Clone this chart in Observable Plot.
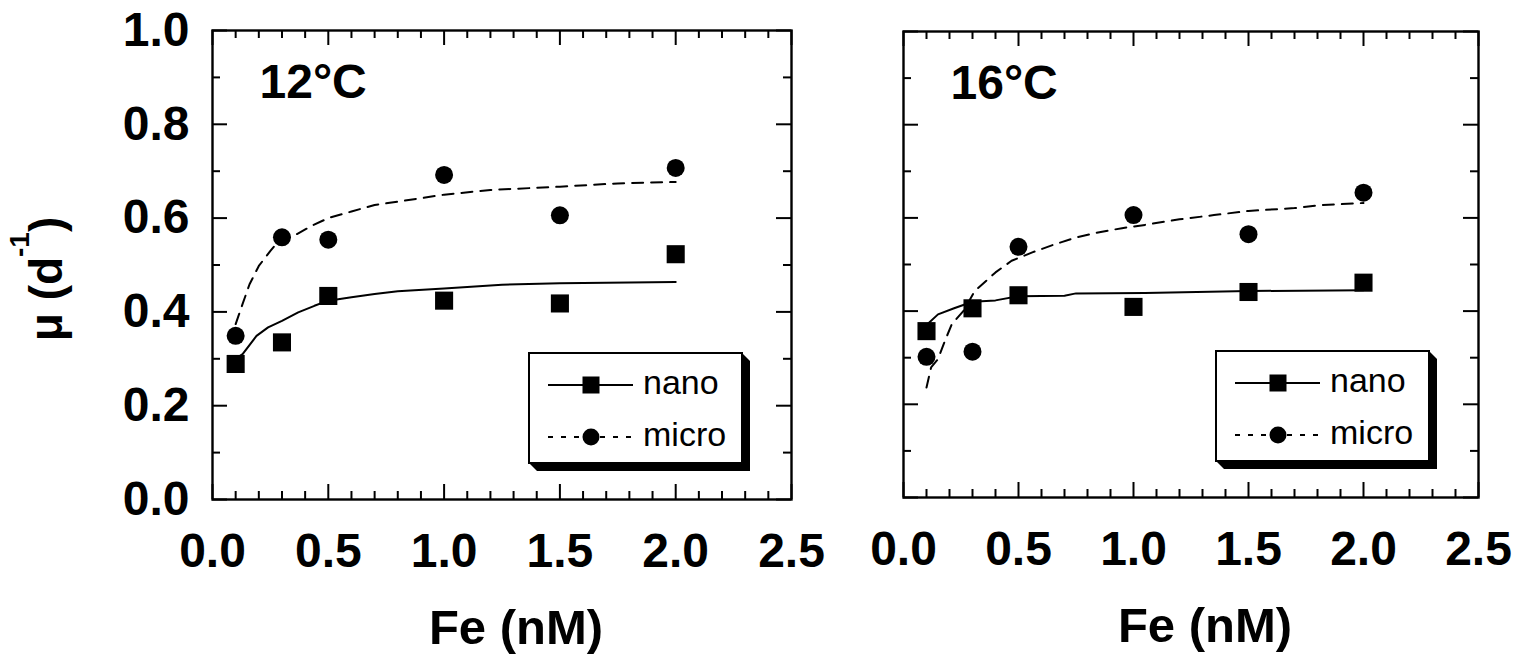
<!DOCTYPE html>
<html><head><meta charset="utf-8">
<script src="https://cdn.jsdelivr.net/npm/d3@7"></script>
<script src="https://cdn.jsdelivr.net/npm/@observablehq/plot@0.6"></script>
<style>
html,body{margin:0;padding:0;background:#fff;}
#wrap{position:relative;width:1526px;height:660px;overflow:hidden;background:#fff;}
#wrap svg{position:absolute;top:0;}
</style></head><body><div id="wrap"></div>
<script>
// ---- data ----
const fe = [0.1, 0.3, 0.5, 1.0, 1.5, 2.0];
const nano12 = [0.289, 0.335, 0.434, 0.424, 0.418, 0.523];
const micro12 = [0.349, 0.559, 0.554, 0.692, 0.606, 0.707];
const nano16 = [0.357, 0.406, 0.434, 0.409, 0.441, 0.461];
const micro16 = [0.302, 0.313, 0.538, 0.606, 0.565, 0.654];

const fitNano12Fe = [0.1, 0.13, 0.19, 0.24, 0.3, 0.37, 0.44, 0.5, 0.6, 0.7, 0.8, 1.0, 1.25, 1.5, 2.0];
const fitNano12Mu = [0.300, 0.310, 0.349, 0.367, 0.381, 0.399, 0.413, 0.424, 0.431, 0.438, 0.444, 0.450, 0.458, 0.461, 0.464];
const fitMicro12Fe = [0.1, 0.13, 0.16, 0.2, 0.25, 0.28, 0.35, 0.43, 0.5, 0.6, 0.7, 0.8, 1.0, 1.2, 1.5, 1.75, 2.0];
const fitMicro12Mu = [0.374, 0.417, 0.459, 0.498, 0.530, 0.548, 0.562, 0.584, 0.600, 0.614, 0.628, 0.635, 0.650, 0.660, 0.667, 0.674, 0.677];
const fitNano16Fe = [0.1, 0.15, 0.22, 0.3, 0.4, 0.5, 0.7, 0.75, 1.05, 1.5, 2.0];
const fitNano16Mu = [0.370, 0.393, 0.406, 0.420, 0.423, 0.432, 0.433, 0.438, 0.439, 0.443, 0.445];
const fitMicro16Fe = [0.1, 0.12, 0.15, 0.18, 0.21, 0.26, 0.31, 0.4, 0.47, 0.56, 0.65, 0.75, 0.84, 0.95, 1.05, 1.2, 1.35, 1.5, 1.7, 1.8, 2.0];
const fitMicro16Mu = [0.236, 0.279, 0.297, 0.336, 0.372, 0.400, 0.443, 0.483, 0.508, 0.526, 0.542, 0.558, 0.568, 0.578, 0.585, 0.597, 0.606, 0.615, 0.621, 0.627, 0.632];

const xMajor = [0, 0.5, 1.0, 1.5, 2.0, 2.5];
const xTickLabels = ["0.0", "0.5", "1.0", "1.5", "2.0", "2.5"];
const xMinor = [0.1, 0.2, 0.3, 0.4, 0.6, 0.7, 0.8, 0.9, 1.1, 1.2, 1.3, 1.4, 1.6, 1.7, 1.8, 1.9, 2.1, 2.2, 2.3, 2.4];
const yMajor = [0, 0.2, 0.4, 0.6, 0.8, 1.0];
const yTickLabels = ["0.0", "0.2", "0.4", "0.6", "0.8", "1.0"];
const yMinor = [0.1, 0.3, 0.5, 0.7, 0.9];
const seriesNames = ["nano", "micro"];
const panelLabels = ["12°C", "16°C"];
const xTitle = "Fe (nM)";

// ---- drawing ----
const H = 660;
const FONT = "'Liberation Sans', Arial, Helvetica, sans-serif";
const zip = (xs, ys) => xs.map((x, i) => ({x, v: ys[i]}));

function panel(cfg) {
  const innerH = H - cfg.mT - cfg.mB;
  const innerW = cfg.width - cfg.mL - cfg.mR;
  const tk = {stroke: "black", strokeWidth: 2};
  const marks = [
    Plot.tickX(xMajor, {x: d => d, insetTop: innerH - 15, ...tk}),
    Plot.tickX(xMajor, {x: d => d, insetBottom: innerH - 15, ...tk}),
    Plot.tickX(xMinor, {x: d => d, insetTop: innerH - 8, ...tk}),
    Plot.tickX(xMinor, {x: d => d, insetBottom: innerH - 8, ...tk}),
    Plot.tickY(yMajor, {y: d => d, insetRight: innerW - 15, ...tk}),
    Plot.tickY(yMajor, {y: d => d, insetLeft: innerW - 15, ...tk}),
    Plot.tickY(yMinor, {y: d => d, insetRight: innerW - 8, ...tk}),
    Plot.tickY(yMinor, {y: d => d, insetLeft: innerW - 8, ...tk}),
    Plot.frame({stroke: "black", strokeWidth: 2.4}),
    Plot.line(zip(cfg.fitNFe, cfg.fitN), {x: "x", y: "v", stroke: "black", strokeWidth: 2}),
    Plot.line(zip(cfg.fitMFe, cfg.fitM), {x: "x", y: "v", stroke: "black", strokeWidth: 2, strokeDasharray: "11,8"}),
    Plot.dot(zip(fe, cfg.nano), {x: "x", y: "v", symbol: "square", r: 10.2, fill: "black", stroke: null}),
    Plot.dot(zip(fe, cfg.micro), {x: "x", y: "v", symbol: "circle", r: 9, fill: "black", stroke: null}),
    Plot.text(xTickLabels, {x: (d, i) => xMajor[i], text: d => d, frameAnchor: "bottom", dy: 52, lineAnchor: "middle", fontSize: 48, fontWeight: "bold"}),
    Plot.text([cfg.label], {text: d => d, frameAnchor: "top-left", dx: 47, dy: 67, lineAnchor: "bottom", textAnchor: "start", fontSize: 48, fontWeight: "bold"}),
    Plot.text([xTitle], {text: d => d, frameAnchor: "bottom", dx: 14, dy: 144, lineAnchor: "bottom", fontSize: 49, fontWeight: "bold"})
  ];
  if (cfg.yLabels) {
    marks.push(Plot.text(yTickLabels, {y: (d, i) => yMajor[i], text: d => d, frameAnchor: "left", dx: -23, textAnchor: "end", lineAnchor: "middle", fontSize: 48, fontWeight: "bold"}));
  }
  const svg = Plot.plot({
    width: cfg.width, height: H,
    marginLeft: cfg.mL, marginRight: cfg.mR, marginTop: cfg.mT, marginBottom: cfg.mB,
    x: {domain: [0, 2.5], axis: null},
    y: {domain: [0, 1], axis: null},
    style: {fontFamily: FONT, background: "transparent", overflow: "visible", color: "black"},
    marks
  });
  svg.style.left = cfg.left + "px";
  document.getElementById("wrap").appendChild(svg);

  // legend box (layout element, placed relative to the frame)
  const frameRight = cfg.width - cfg.mR, frameBottom = H - cfg.mB;
  const bw = 213, bh = 110, off = 8;
  const x2 = frameRight - 49, x1 = x2 - bw, y1 = frameBottom - 146, y2 = y1 + bh;
  const g = d3.select(svg).append("g").attr("font-family", FONT).attr("text-anchor", "start");
  g.append("polygon")
    .attr("points", [[x2, y1], [x2 + off, y1 + off], [x2 + off, y2 + off], [x1 + off, y2 + off], [x1, y2]].map(p => p.join(",")).join(" "))
    .attr("fill", "black");
  g.append("rect").attr("x", x1).attr("y", y1).attr("width", bw).attr("height", bh)
    .attr("fill", "white").attr("stroke", "black").attr("stroke-width", 2);
  const rows = [y1 + 32, y1 + 84];
  // nano row
  g.append("line").attr("x1", x1 + 19).attr("x2", x1 + 104).attr("y1", rows[0]).attr("y2", rows[0])
    .attr("stroke", "black").attr("stroke-width", 2);
  g.append("rect").attr("x", x1 + 62 - 8.5).attr("y", rows[0] - 8.5).attr("width", 17).attr("height", 17).attr("fill", "black");
  // micro row
  g.append("line").attr("x1", x1 + 19).attr("x2", x1 + 104).attr("y1", rows[1]).attr("y2", rows[1])
    .attr("stroke", "black").attr("stroke-width", 2).attr("stroke-dasharray", "5,8");
  g.append("circle").attr("cx", x1 + 62).attr("cy", rows[1]).attr("r", 8.5).attr("fill", "black");
  seriesNames.forEach((n, i) => {
    g.append("text").attr("x", x1 + 114).attr("y", rows[i] + 9).attr("text-anchor", "start")
      .attr("font-size", 34).attr("fill", "black").text(n);
  });

  if (cfg.yLabels) {
    const t = d3.select(svg).append("text")
      .attr("transform", "translate(62,279) rotate(-90)")
      .attr("text-anchor", "middle").attr("font-family", FONT)
      .attr("font-size", 46).attr("font-weight", "bold").attr("fill", "black");
    t.append("tspan").text("μ (d");
    t.append("tspan").attr("font-size", 28).attr("dy", -33).text("-1");
    t.append("tspan").attr("dy", 33).text(")");
  }
}

panel({left: 0, width: 830, mL: 212, mR: 39, mT: 30, mB: 161, label: panelLabels[0],
  nano: nano12, micro: micro12, fitNFe: fitNano12Fe, fitN: fitNano12Mu, fitMFe: fitMicro12Fe, fitM: fitMicro12Mu, yLabels: true});
panel({left: 830, width: 696, mL: 73, mR: 48, mT: 31, mB: 163, label: panelLabels[1],
  nano: nano16, micro: micro16, fitNFe: fitNano16Fe, fitN: fitNano16Mu, fitMFe: fitMicro16Fe, fitM: fitMicro16Mu, yLabels: false});
</script></body></html>
